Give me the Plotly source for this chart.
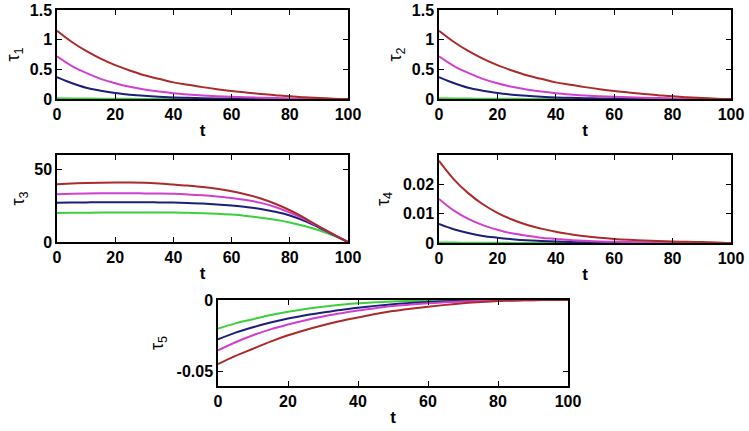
import plotly.graph_objects as go

# time samples
T = [0, 5, 10, 15, 20, 25, 30, 35, 40, 45, 50, 55, 60, 65, 70, 75, 80, 85, 90, 95, 100]

# tau_1
TAU1_GREEN = [0.012, 0.009, 0.007, 0.005, 0.004, 0.003, 0.002, 0.0015, 0.001, 0.0008, 0.0006, 0.0004, 0.0003, 0.0002, 0.0001, 0, 0, 0, 0, 0, 0]
TAU1_BLUE = [0.37, 0.27, 0.19, 0.14, 0.10, 0.073, 0.053, 0.038, 0.027, 0.02, 0.014, 0.01, 0.007, 0.005, 0.004, 0.003, 0.002, 0.001, 0.001, 0, 0]
TAU1_MAGENTA = [0.72, 0.56, 0.44, 0.34, 0.265, 0.205, 0.16, 0.125, 0.097, 0.076, 0.059, 0.046, 0.036, 0.028, 0.021, 0.015, 0.01, 0.006, 0.003, 0.001, 0]
TAU1_RED = [1.15, 0.965, 0.81, 0.68, 0.57, 0.48, 0.40, 0.34, 0.28, 0.24, 0.20, 0.165, 0.135, 0.11, 0.085, 0.065, 0.045, 0.03, 0.015, 0.005, 0]

# tau_2
TAU2_GREEN = [0.012, 0.009, 0.007, 0.005, 0.004, 0.003, 0.002, 0.0015, 0.001, 0.0008, 0.0006, 0.0004, 0.0003, 0.0002, 0.0001, 0, 0, 0, 0, 0, 0]
TAU2_BLUE = [0.37, 0.27, 0.19, 0.14, 0.10, 0.073, 0.053, 0.038, 0.027, 0.02, 0.014, 0.01, 0.007, 0.005, 0.004, 0.003, 0.002, 0.001, 0.001, 0, 0]
TAU2_MAGENTA = [0.72, 0.56, 0.44, 0.34, 0.265, 0.205, 0.16, 0.125, 0.097, 0.076, 0.059, 0.046, 0.036, 0.028, 0.021, 0.015, 0.01, 0.006, 0.003, 0.001, 0]
TAU2_RED = [1.15, 0.965, 0.81, 0.68, 0.57, 0.48, 0.40, 0.34, 0.28, 0.24, 0.20, 0.165, 0.135, 0.11, 0.085, 0.065, 0.045, 0.03, 0.015, 0.005, 0]

# tau_3
TAU3_GREEN = [20.0, 20.1, 20.2, 20.3, 20.3, 20.3, 20.3, 20.3, 20.3, 20.1, 19.9, 19.5, 18.9, 18.0, 16.8, 15.3, 13.4, 11.0, 8.1, 4.4, 0]
TAU3_BLUE = [27.0, 27.2, 27.3, 27.4, 27.4, 27.4, 27.4, 27.3, 27.2, 26.9, 26.5, 25.9, 25.1, 24.1, 22.8, 20.8, 18.3, 14.6, 10.0, 5.0, 0]
TAU3_MAGENTA = [33.0, 33.3, 33.5, 33.6, 33.6, 33.6, 33.5, 33.4, 33.2, 32.8, 32.2, 31.4, 30.4, 28.9, 27.0, 24.1, 20.3, 15.8, 10.6, 5.2, 0]
TAU3_RED = [39.9, 40.3, 40.7, 40.9, 41.0, 41.0, 40.8, 40.3, 39.6, 38.9, 38.0, 36.7, 35.0, 32.8, 30.0, 26.4, 21.9, 16.7, 10.8, 5.3, 0]

# tau_4
TAU4_GREEN = [0.0002, 0.00015, 0.0001, 0.00008, 0.00006, 0.00004, 0.00003, 0.00002, 0.00001, 0, 0, 0, 0, 0, 0, 0, 0, 0, 0, 0, 0]
TAU4_BLUE = [0.0065, 0.0047, 0.0034, 0.0024, 0.0018, 0.0013, 0.0009, 0.00067, 0.00048, 0.00035, 0.00025, 0.00018, 0.00013, 0.0001, 0.00007, 0.00005, 0.00004, 0.00003, 0.00002, 0.00001, 0]
TAU4_MAGENTA = [0.015, 0.0111, 0.0082, 0.0061, 0.0045, 0.0033, 0.0025, 0.0018, 0.0014, 0.001, 0.00075, 0.00055, 0.0004, 0.0003, 0.0002, 0.00017, 0.00012, 0.0001, 0.00007, 0.00004, 0]
TAU4_RED = [0.028, 0.0218, 0.017, 0.0132, 0.0103, 0.008, 0.0062, 0.0049, 0.0038, 0.003, 0.0023, 0.0018, 0.0014, 0.0011, 0.00085, 0.00066, 0.0005, 0.0004, 0.0003, 0.0002, 0]

# tau_5
TAU5_GREEN = [-0.0200, -0.0163, -0.0134, -0.0105, -0.0082, -0.0063, -0.0047, -0.0034, -0.0023, -0.0016, -0.0010, -0.0007, -0.0004, -0.0002, -0.0001, 0, 0, 0, 0, 0, 0]
TAU5_BLUE = [-0.0275, -0.0228, -0.0190, -0.0157, -0.0129, -0.0106, -0.0087, -0.0069, -0.0054, -0.0041, -0.0030, -0.0021, -0.0014, -0.0009, -0.0006, -0.0003, -0.0002, -0.0001, 0, 0, 0]
TAU5_MAGENTA = [-0.0352, -0.0295, -0.0246, -0.0205, -0.0171, -0.0141, -0.0115, -0.0093, -0.0073, -0.0057, -0.0042, -0.0032, -0.0023, -0.0016, -0.0010, -0.0006, -0.0003, -0.0002, -0.0001, 0, 0]
TAU5_RED = [-0.0448, -0.0390, -0.0340, -0.0290, -0.0246, -0.0209, -0.0176, -0.0147, -0.0122, -0.0098, -0.0077, -0.0061, -0.0047, -0.0034, -0.0023, -0.0014, -0.0007, -0.0003, -0.0001, 0, 0]

X_TICKS = [0, 20, 40, 60, 80, 100]

COLORS = ["#3ccf3c", "#1c1f7a", "#d040d0", "#ab2a2a"]

PANELS = [
    # (series, y range, y ticks, y tick text, subscript)
    ([TAU1_GREEN, TAU1_BLUE, TAU1_MAGENTA, TAU1_RED], [0, 1.5], [0, 0.5, 1, 1.5], ["0", "0.5", "1", "1.5"], "1"),
    ([TAU2_GREEN, TAU2_BLUE, TAU2_MAGENTA, TAU2_RED], [0, 1.5], [0, 0.5, 1, 1.5], ["0", "0.5", "1", "1.5"], "2"),
    ([TAU3_GREEN, TAU3_BLUE, TAU3_MAGENTA, TAU3_RED], [0, 60], [0, 50], ["0", "50"], "3"),
    ([TAU4_GREEN, TAU4_BLUE, TAU4_MAGENTA, TAU4_RED], [0, 0.03], [0, 0.01, 0.02], ["0", "0.01", "0.02"], "4"),
    ([TAU5_GREEN, TAU5_BLUE, TAU5_MAGENTA, TAU5_RED], [-0.06, 0], [-0.05, 0], ["-0.05", "0"], "5"),
]

# axis boxes in pixels (left, right, top, bottom) on a 749x431 page
W, H = 749, 431
BOXES = [(57, 348, 10, 99), (439, 731, 10, 99), (57, 348, 155, 242), (439, 731, 155, 243), (218, 568, 300, 386)]
Y_STANDOFF = [5, 5, 5, 9, 8]

TICK_FONT = dict(family="Liberation Sans, Arial", size=16, color="black", weight="bold")

fig = go.Figure()
layout = {}
for i, (series, yr, yt, ytt, sub) in enumerate(PANELS):
    n = "" if i == 0 else str(i + 1)
    for ys, c in zip(series, COLORS):
        fig.add_trace(go.Scatter(x=T, y=ys, mode="lines", line=dict(color=c, width=2, shape="spline"),
                                 xaxis="x" + n, yaxis="y" + n, showlegend=False, hoverinfo="skip"))
    l, r, t, b = BOXES[i]
    common = dict(showline=True, linecolor="black", linewidth=1.5, mirror="ticks", ticks="inside",
                  ticklen=5, tickwidth=1, tickcolor="black", showgrid=False, zeroline=False,
                  tickfont=TICK_FONT, automargin=False)
    layout["xaxis" + n] = dict(common, domain=[l / W, r / W], anchor="y" + n, range=[0, 100],
                               tickvals=X_TICKS, title=dict(text="t", standoff=2,
                               font=dict(family="Liberation Sans, Arial", size=17, color="black", weight="bold")))
    layout["yaxis" + n] = dict(common, domain=[1 - b / H, 1 - t / H], anchor="x" + n, range=yr,
                               tickvals=yt, ticktext=ytt,
                               title=dict(text="τ<sub>" + sub + "</sub>", standoff=Y_STANDOFF[i],
                                          font=dict(family="Liberation Sans, Arial", size=18, color="black")))

fig.update_layout(**layout)
fig.update_layout(width=W, height=H, margin=dict(l=0, r=0, t=0, b=0),
                  plot_bgcolor="white", paper_bgcolor="white")

# the page body has a default margin; drop it so the figure sits at the window's corner
fig.write_html("out.html", config={"displayModeBar": False},
               post_script="document.body.style.margin='0';")
